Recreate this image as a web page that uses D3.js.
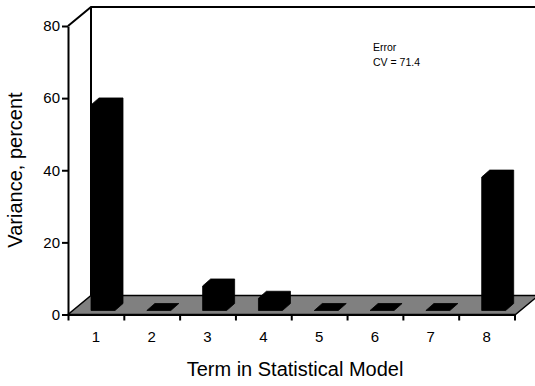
<!DOCTYPE html>
<html>
<head>
<meta charset="utf-8">
<script src="https://cdn.jsdelivr.net/npm/d3@7"></script>
<style>
  body { margin: 0; background: #fff; }
  svg { display: block; font-family: "Liberation Sans", Arial, sans-serif; }
</style>
</head>
<body>
<div id="chart"></div>
<script>
// data
const terms = ['1', '2', '3', '4', '5', '6', '7', '8'];
const variance = [57, 0, 6.8, 3.4, 0, 0, 0, 37];
const yTicks = [0, 20, 40, 60, 80];
const noteLines = ['Error', 'CV = 71.4'];

const width = 535;
const height = 386;
const plot = {left: 68, right: 514.5, top: 26, bottom: 314.5};
const depth = {dx: 23, dy: 19};   // floor / wall depth
const bar = {inset: 23, w: 24, dx: 8, dy: 7, set: 4};

const svg = d3.select('#chart').append('svg')
  .attr('width', width)
  .attr('height', height);

const x = d3.scaleBand().domain(terms).range([plot.left, plot.right]);
const xEdges = d3.scaleLinear().domain([0, terms.length]).range([plot.left, plot.right]);
const y = d3.scaleLinear().domain([0, 80]).range([plot.bottom, plot.top]);

// floor
const y0 = y(0);
svg.append('polygon')
  .attr('points', [
    [plot.left, y0], [plot.right + 1, y0],
    [plot.right + 1 + depth.dx, y0 - depth.dy], [plot.left + depth.dx, y0 - depth.dy],
  ].join(' '))
  .attr('fill', '#808080')
  .attr('stroke', '#000')
  .attr('stroke-width', 1.5);

// walls
const yTop = y(80);
svg.append('path')
  .attr('d', `M${plot.left},${yTop} L${plot.left + depth.dx},${yTop - depth.dy}`
    + ` L${width},${yTop - depth.dy}`
    + ` M${plot.left + depth.dx},${yTop - depth.dy} L${plot.left + depth.dx},${y0 - depth.dy}`)
  .attr('fill', 'none')
  .attr('stroke', '#000')
  .attr('stroke-width', 2);

// bars (solid black silhouettes)
const base = y0 - bar.set;
svg.append('g').selectAll('polygon')
  .data(terms.map((t, i) => ({t, v: variance[i]})))
  .join('polygon')
  .attr('points', (d) => {
    const x0 = x(d.t) + bar.inset;
    const x1 = x0 + bar.w;
    const top = base - (y0 - y(d.v));
    return [
      [x0, base], [x0, top], [x0 + bar.dx, top - bar.dy],
      [x1 + bar.dx, top - bar.dy], [x1 + bar.dx, base - bar.dy], [x1, base],
    ].join(' ');
  })
  .attr('fill', '#000')
  .attr('stroke', '#000')
  .attr('stroke-width', 0.8)
  .attr('stroke-linejoin', 'round');

// y axis
const yAxis = svg.append('g')
  .attr('transform', `translate(${plot.left},0)`)
  .call(d3.axisLeft(y).tickValues(yTicks).tickSize(6).tickSizeOuter(0).tickPadding(2));
yAxis.select('.domain').attr('stroke-width', 2);
yAxis.selectAll('.tick line').attr('stroke-width', 2);
yAxis.selectAll('.tick text').attr('font-size', 15).attr('font-family', null).attr('fill', '#000');

// x axis: ticks at band edges, labels at band centres
const xTickAxis = svg.append('g')
  .attr('transform', `translate(0,${y0})`)
  .call(d3.axisBottom(xEdges).tickValues(d3.range(terms.length + 1))
    .tickFormat('').tickSize(6).tickSizeOuter(0));
xTickAxis.select('.domain').attr('stroke-width', 2);
xTickAxis.selectAll('.tick line').attr('stroke-width', 2);

const xLabelAxis = svg.append('g')
  .attr('transform', `translate(0,${y0})`)
  .call(d3.axisBottom(x).tickSize(0).tickPadding(17));
xLabelAxis.select('.domain').remove();
xLabelAxis.selectAll('.tick text').attr('font-size', 15).attr('font-family', null).attr('fill', '#000');

// axis titles
svg.append('text')
  .attr('x', 295)
  .attr('y', 376)
  .attr('text-anchor', 'middle')
  .attr('font-size', 20)
  .text('Term in Statistical Model');

svg.append('text')
  .attr('transform', 'translate(22,170) rotate(-90)')
  .attr('text-anchor', 'middle')
  .attr('font-size', 20)
  .text('Variance, percent');

// note
svg.append('g').selectAll('text')
  .data(noteLines)
  .join('text')
  .attr('x', 373)
  .attr('y', (d, i) => 50.5 + i * 15.5)
  .attr('font-size', 10.5)
  .text((d) => d);
</script>
</body>
</html>
